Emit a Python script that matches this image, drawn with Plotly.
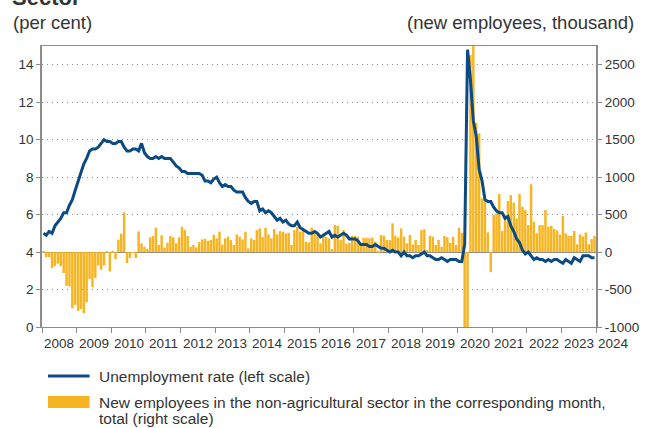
import plotly.graph_objects as go
import pandas as pd

# ---------------- data ----------------
months = pd.date_range("2008-01-01", "2023-12-01", freq="MS").strftime("%Y-%m-%d").tolist()

unemployment_rate = [
    5.0, 4.9, 5.1, 5.0, 5.4, 5.6, 5.8, 6.1, 6.1, 6.5, 6.8, 7.3,   # 2008
    7.8, 8.3, 8.7, 9.0, 9.4, 9.5, 9.5, 9.6, 9.8, 10.0, 9.9, 9.9,  # 2009
    9.8, 9.8, 9.9, 9.9, 9.6, 9.4, 9.4, 9.5, 9.5, 9.4, 9.8, 9.3,   # 2010
    9.1, 9.0, 9.0, 9.1, 9.0, 9.1, 9.0, 9.0, 9.0, 8.8, 8.6, 8.5,   # 2011
    8.3, 8.3, 8.2, 8.2, 8.2, 8.2, 8.2, 8.1, 7.8, 7.8, 7.7, 7.9,   # 2012
    8.0, 7.7, 7.5, 7.6, 7.5, 7.5, 7.3, 7.2, 7.2, 7.2, 6.9, 6.7,   # 2013
    6.6, 6.7, 6.7, 6.2, 6.3, 6.1, 6.2, 6.1, 5.9, 5.7, 5.8, 5.6,   # 2014
    5.7, 5.5, 5.4, 5.4, 5.6, 5.3, 5.2, 5.1, 5.0, 5.0, 5.1, 5.0,   # 2015
    4.8, 4.9, 5.0, 5.1, 4.8, 4.9, 4.8, 4.9, 5.0, 4.9, 4.7, 4.7,   # 2016
    4.7, 4.6, 4.4, 4.4, 4.4, 4.3, 4.3, 4.4, 4.3, 4.2, 4.2, 4.1,   # 2017
    4.0, 4.1, 4.0, 4.0, 3.8, 4.0, 3.8, 3.8, 3.7, 3.8, 3.8, 3.9,   # 2018
    4.0, 3.8, 3.8, 3.7, 3.6, 3.6, 3.7, 3.6, 3.5, 3.6, 3.6, 3.6,   # 2019
    3.5, 3.5, 4.4, 14.8, 13.2, 11.0, 10.2, 8.4, 7.8, 6.8, 6.7, 6.7,  # 2020
    6.4, 6.2, 6.1, 6.1, 5.8, 5.9, 5.4, 5.1, 4.7, 4.5, 4.1, 3.9,   # 2021
    4.0, 3.8, 3.6, 3.7, 3.6, 3.6, 3.5, 3.6, 3.5, 3.6, 3.6, 3.5,   # 2022
    3.4, 3.6, 3.5, 3.4, 3.7, 3.6, 3.5, 3.8, 3.8, 3.8, 3.7, 3.7,   # 2023
]

new_employees = [
    10, -70, -70, -215, -190, -155, -190, -280, -450, -460, -750, -705,       # 2008
    -785, -760, -815, -670, -360, -470, -345, -180, -235, -180, 5, -260,      # 2009
    10, -95, 165, 245, 530, -147, -80, -10, -80, 276, 116, 71,                # 2010
    42, 196, 214, 325, 94, 223, 62, 125, 214, 196, 116, 196,                  # 2011
    338, 294, 214, 71, 94, 62, 134, 169, 178, 151, 160, 231,                  # 2012
    182, 272, 100, 182, 205, 160, 94, 236, 205, 169, 272, 49,                 # 2013
    183, 160, 294, 316, 200, 325, 236, 183, 307, 236, 280, 272,               # 2014
    249, 258, 94, 294, 338, 272, 316, 138, 129, 325, 263, 249,                # 2015
    116, 227, 205, 183, 40, 360, 352, 160, 294, 116, 125, 218,                # 2016
    218, 205, 116, 191, 191, 183, 191, 138, 13, 227, 218, 160,                # 2017
    160, 383, 218, 191, 316, 205, 116, 227, 102, 160, 94, 294,                # 2018
    303, 27, 218, 205, 94, 160, 71, 214, 196, 125, 205, 94,                   # 2019
    325, 258, -1373, -20477, 2630, 4781, 1726, 1583, 716, 680, 263, -268,     # 2020
    494, 520, 775, 280, 500, 680, 760, 660, 450, 775, 605, 560,               # 2021
    360, 904, 405, 250, 360, 360, 561, 340, 350, 310, 290, 235,               # 2022
    482, 248, 217, 217, 281, 105, 236, 210, 262, 105, 173, 216,               # 2023
]

years = [str(y) for y in range(2008, 2025)]
left_ticks = [0, 2, 4, 6, 8, 10, 12, 14]
left_ticktext = ["0", "2", "4", "6", "8", "10", "12", "14"]
right_ticks = [-1000, -500, 0, 500, 1000, 1500, 2000, 2500]
right_ticktext = ["-1000", "-500", "0", "500", "1000", "1500", "2000", "2500"]

line_name = "Unemployment rate (left scale)"
bar_name_1 = "New employees in the non-agricultural sector in the corresponding month,"
bar_name_2 = "total (right scale)"

# ---------------- style ----------------
FONT = "Liberation Sans, Arial, sans-serif"
TXT = "#333333"
AX = "#8c8c8c"
BLUE = "#0b4a82"
GOLD = "#f7b422"

W, H = 651, 428
L, R, T, B = 42, 50, 46, 101
PW, PH = W - L - R, H - T - B
N_YEARS = len(years) - 1


def px_x(px):
    return (px - L) / PW


def px_y(py):
    return (H - B - py) / PH


fig = go.Figure()
fig.add_trace(go.Bar(
    x=months, y=new_employees, yaxis="y", marker=dict(color=GOLD, line=dict(width=0)),
    xperiod="M1", xperiodalignment="middle", name=bar_name_1, showlegend=False,
))
fig.add_trace(go.Scatter(
    x=months, y=unemployment_rate, yaxis="y2", mode="lines",
    line=dict(color=BLUE, width=3), xperiod="M1", xperiodalignment="middle",
    name=line_name, showlegend=False,
))

fig.update_layout(
    width=W, height=H, margin=dict(l=L, r=R, t=T, b=B),
    paper_bgcolor="white", plot_bgcolor="white", bargap=0.12,
    font=dict(family=FONT, size=13.5, color=TXT),
    xaxis=dict(
        type="date", range=[f"{years[0]}-01-01", f"{years[-1]}-01-01"],
        tickvals=[f"{y}-01-01" for y in years], showticklabels=False,
        ticks="outside", ticklen=5, tickcolor=AX, showgrid=False,
        showline=True, linecolor=AX, linewidth=1, mirror=True, zeroline=False,
    ),
    yaxis=dict(
        side="right", range=[-1000, 2750], tickvals=right_ticks, ticktext=right_ticktext,
        ticks="outside", ticklen=4, tickcolor=AX, showline=True, linecolor=AX, linewidth=2,
        showgrid=True, gridcolor="#8a8a8a", gridwidth=1, griddash="1px,4px",
        zeroline=True, zerolinecolor=AX, zerolinewidth=1,
        tickfont=dict(family=FONT, size=13.5, color=TXT),
    ),
    yaxis2=dict(
        overlaying="y", side="left", range=[0, 15], tickvals=left_ticks, ticktext=left_ticktext,
        ticks="outside", ticklen=4, tickcolor=AX, showline=True, linecolor=AX, linewidth=1.5,
        showgrid=False, zeroline=False,
        tickfont=dict(family=FONT, size=13.5, color=TXT),
    ),
)

ann = []
# partially visible title at the very top
ann.append(dict(text="<b>Sector</b>", x=px_x(10), y=px_y(12), xref="paper", yref="paper",
                xanchor="left", yanchor="bottom", showarrow=False,
                font=dict(family=FONT, size=22, color=TXT)))
ann.append(dict(text="(per cent)", x=px_x(11), y=px_y(22), xref="paper", yref="paper",
                xanchor="left", yanchor="middle", showarrow=False,
                font=dict(family=FONT, size=18.5, color=TXT)))
ann.append(dict(text="(new employees, thousand)", x=px_x(641), y=px_y(22), xref="paper", yref="paper",
                xanchor="right", yanchor="middle", showarrow=False,
                font=dict(family=FONT, size=18.5, color=TXT)))
# year labels centred in each year band (the last one sits just past the axis end)
for i, y in enumerate(years):
    ann.append(dict(text=y, x=(i + 0.5) / N_YEARS, y=px_y(343), xref="paper", yref="paper",
                    xanchor="center", yanchor="middle", showarrow=False,
                    font=dict(family=FONT, size=13.5, color=TXT)))
# legend
ann.append(dict(text=line_name, x=px_x(98), y=px_y(376), xref="paper", yref="paper",
                xanchor="left", yanchor="middle", showarrow=False,
                font=dict(family=FONT, size=15.5, color=TXT)))
ann.append(dict(text=bar_name_1, x=px_x(98), y=px_y(402), xref="paper", yref="paper",
                xanchor="left", yanchor="middle", showarrow=False,
                font=dict(family=FONT, size=15.5, color=TXT)))
ann.append(dict(text=bar_name_2, x=px_x(98), y=px_y(418.5), xref="paper", yref="paper",
                xanchor="left", yanchor="middle", showarrow=False,
                font=dict(family=FONT, size=15.5, color=TXT)))
fig.update_layout(annotations=ann)

fig.update_layout(shapes=[
    dict(type="line", xref="paper", yref="paper", x0=px_x(48), x1=px_x(90),
         y0=px_y(376), y1=px_y(376), line=dict(color=BLUE, width=3)),
    dict(type="rect", xref="paper", yref="paper", x0=px_x(48), x1=px_x(90),
         y0=px_y(396), y1=px_y(408), fillcolor=GOLD, line=dict(width=0)),
])

fig.write_html(
    "out.html",
    config={"displayModeBar": False},
    post_script="document.body.style.margin='0px';document.body.style.overflow='hidden';",
)
